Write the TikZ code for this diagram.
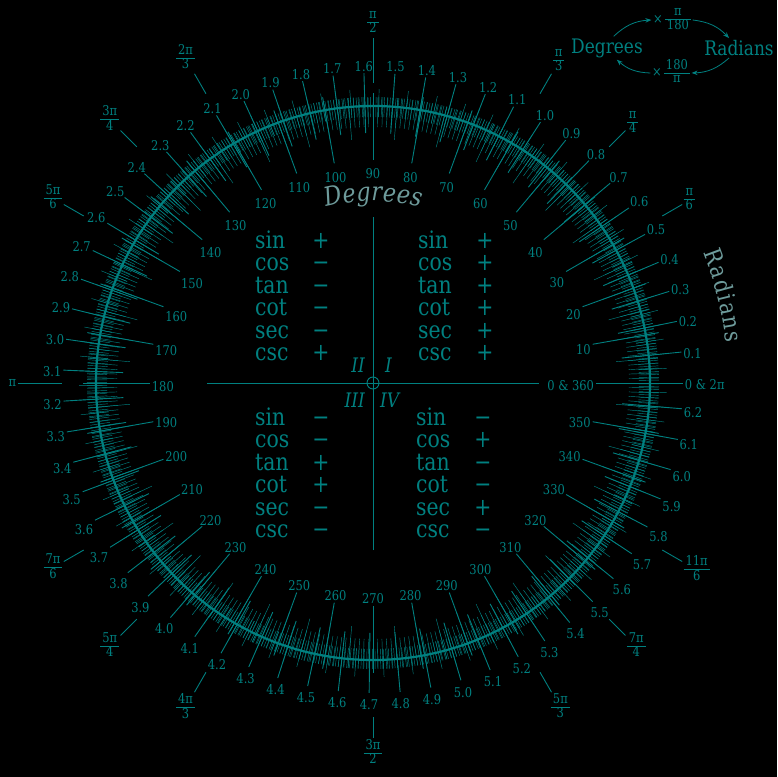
\documentclass[tikz,border=0pt]{standalone}
\usepackage{fontspec}
\setmainfont{DejaVu Serif}[FakeStretch=0.85]
\usepackage{tikz}
\usetikzlibrary{arrows.meta,decorations.text}
\definecolor{dial}{RGB}{0,128,128}
\definecolor{dialgray}{RGB}{110,155,155}
\newcommand{\frc}[2]{\begin{tabular}{@{\hspace{2pt}}c@{\hspace{2pt}}}#1\\\hline #2\end{tabular}}
\renewcommand{\arraystretch}{0.8}
\setlength{\arrayrulewidth}{0.8pt}

\begin{document}
\begin{tikzpicture}[x=1pt,y=1pt,
  degtick/.style={dial,line width=0.45pt},
  leader/.style={dial,line width=0.9pt},
  lbl/.style={text=dial,font=\fontsize{13.5}{15}\selectfont,inner sep=1.5pt},
  fnname/.style={text=dial,font=\fontsize{24}{26}\selectfont,anchor=base west,inner sep=0pt},
  fnsign/.style={text=dial,font=\fontsize{24}{26}\selectfont,anchor=base,inner sep=0pt},
  quadnum/.style={text=dial,font=\fontsize{20}{22}\selectfont\itshape,inner sep=0pt},
  convtxt/.style={text=dial,font=\fontsize{20}{22}\selectfont,inner sep=2pt},
  convarrow/.style={dial,line width=0.8pt,-{Stealth[length=6pt,width=4.5pt]}}]
\path[fill=black,use as bounding box] (-373,-394) rectangle (404,383);

% main circle
\draw[dial,line width=2.2pt] (0,0) circle[radius=277];

% degree ticks (inside)
\foreach \d in {0,...,359}
  \draw[degtick] (\d:256) -- (\d:286);
\foreach \d in {0,5,...,355}
  \draw[degtick] (\d:244) -- (\d:286);
\foreach \d in {10,20,...,350}{
  \pgfmathsetmacro\dy{-3.5*(1+sin(\d))}
  \draw[leader] (\d:223) -- (\d:290) node[lbl,at start,anchor=\d,yshift=\dy] (deg\d) {\d};
}
\draw[leader] (0:223) -- (0:290) node[lbl,at start,anchor=east,yshift=-3] (deg0) {0 \& 360};

% radian ticks (outside)
\foreach \k in {0,...,628}
  \draw[degtick] ({\k*0.5729578}:266) -- ({\k*0.5729578}:286);
\foreach \k in {0,...,125}
  \draw[degtick] ({\k*2.864789}:266) -- ({\k*2.864789}:294);
\foreach \k in {1,...,62}{
  \pgfmathsetmacro\ang{\k*5.729578}
  \pgfmathsetmacro\anc{mod(\ang+180,360)}
  \pgfmathsetmacro\dy{-2.5*(1-sin(\ang))}
  \pgfmathtruncatemacro\ip{int((\k+0.5)/10)}
  \pgfmathtruncatemacro\fp{\k-10*\ip}
  \draw[leader] (\ang:250) -- (\ang:310) node[lbl,anchor=\anc,yshift=\dy] (rad\k) {\ip.\fp};
}
\draw[leader] (0:250) -- (0:310) node[lbl,anchor=west,yshift=-2] (rad0) {0 \& 2π};

% multiples of pi
\foreach \a/\nm/\dn/\ri/\ro in {30/π/6/334/357, 45/π/4/334/357, 60/π/3/334/357,
    90/π/2/300/345, 120/2π/3/334/357, 135/3π/4/334/357, 150/5π/6/334/357,
    210/7π/6/334/357, 225/5π/4/334/357, 240/4π/3/334/357, 270/3π/2/334/355,
    300/5π/3/334/357, 315/7π/4/334/357, 330/11π/6/334/357}{
  \pgfmathsetmacro\anc{mod(\a+180,360)}
  \draw[leader] (\a:\ri) -- (\a:\ro) node[lbl,inner sep=1pt,anchor=\anc] (pi\a) {\frc{\nm}{\dn}};
}
\draw[leader] (180:311) -- (180:355) node[lbl,anchor=east] (pi180) {π};

% axes
\draw[leader] (-166,0) -- (166,0);
\draw[leader] (0,-167) -- (0,166);
\draw[leader] (0,0) circle[radius=6];

% curved titles
\path[decorate,decoration={text along path,text align={fit to path},text color=dialgray,
  text={|\fontsize{26}{28}\selectfont\itshape|Degrees}}]
  (105:182) arc[start angle=105,end angle=75,radius=182];
\path[decorate,decoration={text along path,text align={fit to path},text color=dialgray,
  text={|\fontsize{24}{26}\selectfont|Radians}}]
  (21.5:355) arc[start angle=21.5,end angle=6.5,radius=355];

% signs per quadrant
\foreach \f/\sa/\sb/\sc/\sd [count=\i from 0] in {sin/+/+/−/−, cos/+/−/−/+,
    tan/+/−/+/−, cot/+/−/+/−, sec/+/−/−/+, csc/+/+/−/−}{
  \node[fnname] (qa\f) at (45,{135-22.5*\i}) {\f};
  \node[fnsign] (sa\f) at (112,{135-22.5*\i}) {\sa};
  \node[fnname] (qb\f) at (-118,{135-22.5*\i}) {\f};
  \node[fnsign] (sb\f) at (-52,{135-22.5*\i}) {\sb};
  \node[fnname] (qc\f) at (-118,{-42-22.5*\i}) {\f};
  \node[fnsign] (sc\f) at (-52,{-42-22.5*\i}) {\sc};
  \node[fnname] (qd\f) at (43,{-42-22.5*\i}) {\f};
  \node[fnsign] (sd\f) at (110,{-42-22.5*\i}) {\sd};
}
\node[quadnum,anchor=base east] (qII) at (-8,11) {II};
\node[quadnum,anchor=base west] (qI) at (12,11) {I};
\node[quadnum,anchor=base east] (qIII) at (-8,-24) {III};
\node[quadnum,anchor=base west] (qIV) at (7,-24) {IV};

% conversion
\node[convtxt] (degnode) at (234,335) {Degrees};
\node[convtxt] (radnode) at (366,335) {Radians};
\node[lbl] (torad) at (299,363) {×\,\frc{π}{180}};
\node[lbl] (todeg) at (298,310) {×\,\frc{180}{π}};
\draw[convarrow] (degnode.60) to[bend left=20] (torad.west);
\draw[convarrow] (torad.east) to[bend left=20] (radnode.135);
\draw[convarrow] (radnode.-135) to[bend left=20] (todeg.east);
\draw[convarrow] (todeg.west) to[bend left=20] (degnode.-50);
\end{tikzpicture}
\end{document}
